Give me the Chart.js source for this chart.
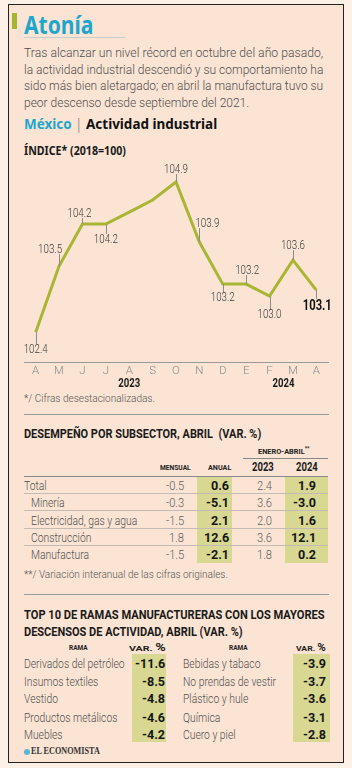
<!DOCTYPE html>
<html>
<head>
<meta charset="utf-8">
<script src="https://cdn.jsdelivr.net/npm/chart.js@4.4.1/dist/chart.umd.min.js"></script>
<style>
  body { margin: 0; width: 352px; height: 768px; overflow: hidden; background: #fdf0e7; font-family: Roboto, "Open Sans", sans-serif; }
  #card { position: absolute; left: 8px; top: 4px; width: 336px; height: 759px; box-sizing: border-box; border: 1.5px solid #222; background: #fbe4d4; }
  .t { position: absolute; white-space: nowrap; line-height: 1; transform-origin: 0 50%; }
  .hl { position: absolute; background: #d8d893; }
  .ln { position: absolute; height: 1px; }
  canvas { position: absolute; left: 0; top: 150px; }
</style>
</head>
<body>
<div id="card"></div>
<div id="page"></div>
<canvas id="chart" width="352" height="250"></canvas>
<script>
const months = ["A", "M", "J", "J", "A", "S", "O", "N", "D", "E", "F", "M", "A"];
const indice = [102.4, 103.5, 104.2, 104.2, 104.4, 104.6, 104.9, 103.9, 103.2, 103.2, 103.0, 103.6, 103.1];
const years = ["2023", "2024"];

const subsectores = ["Total", "Minería", "Electricidad, gas y agua", "Construcción", "Manufactura"];
const mensual = [-0.5, -0.3, -1.5, 1.8, -1.5];
const anual = [0.6, -5.1, 2.1, 12.6, -2.1];
const acum2023 = [2.4, 3.6, 2.0, 3.6, 1.8];
const acum2024 = [1.9, -3.0, 1.6, 12.1, 0.2];

const ramasA = ["Derivados del petróleo", "Insumos textiles", "Vestido", "Productos metálicos", "Muebles"];
const varA = [-11.6, -8.5, -4.8, -4.6, -4.2];
const ramasB = ["Bebidas y tabaco", "No prendas de vestir", "Plástico y hule", "Química", "Cuero y piel"];
const varB = [-3.9, -3.7, -3.6, -3.1, -2.8];

const page = document.getElementById("page");

function box(cls, x, y, w, h, color) {
  const d = document.createElement("div");
  d.className = cls;
  Object.assign(d.style, { left: x + "px", top: y + "px", width: w + "px", height: h + "px" });
  if (color) d.style.background = color;
  page.appendChild(d);
  return d;
}
function natural(str, style) {
  const d = document.createElement("div");
  d.className = "t";
  d.innerHTML = str;
  Object.assign(d.style, style || {});
  page.appendChild(d);
  const w = d.offsetWidth;
  d.remove();
  return w;
}
// y = vertical centre; opt.w squeezes to a width, opt.sx is a fixed squeeze, opt.align l/r/c
function txt(str, x, y, style, opt) {
  opt = opt || {};
  const d = document.createElement("div");
  d.className = "t";
  d.innerHTML = str;
  Object.assign(d.style, style || {});
  page.appendChild(d);
  const W = d.offsetWidth;
  const s = opt.w ? opt.w / W : (opt.sx || 1);
  const align = opt.align || "l";
  const left = align === "r" ? x - W * s : align === "c" ? x - W * s / 2 : x;
  d.style.left = left + "px";
  d.style.top = (y - d.offsetHeight / 2) + "px";
  d.style.transform = `scaleX(${s})`;
  return d;
}
const fmt = (v) => v.toFixed(1);

const bodyFont = { fontSize: "13.5px", color: "#4f4f4f", fontWeight: "300" };
const boldSans = { fontFamily: "'Noto Sans', sans-serif", fontWeight: "700" };
const capsBold = { fontWeight: "700", color: "#1a1a1a" };
const tiny = { fontWeight: "700", fontSize: "7.5px", color: "#222" };

// header
box("hl", 12, 13, 5, 16, "#a6b532");
txt("Atonía", 24, 24, { ...boldSans, fontSize: "25px", color: "#1ea6cd" }, { w: 69 });
box("ln", 24, 37, 101, 1, "#c9cdd0");
txt("Tras alcanzar un nivel récord en octubre del año pasado,", 24, 53, bodyFont, { w: 299 });
txt("la actividad industrial descendió y su comportamiento ha", 24, 69.5, bodyFont, { w: 299 });
txt("sido más bien aletargado; en abril la manufactura tuvo su", 24, 86, bodyFont, { w: 299 });
txt("peor descenso desde septiembre del 2021.", 24, 102.5, bodyFont, { w: 225 });
txt('<span style="color:#1ea6cd">México</span> <span style="color:#999;font-weight:400">|</span> <span style="color:#111">Actividad industrial</span>',
  24, 123, { ...boldSans, fontSize: "14.5px" }, { w: 193 });
txt("ÍNDICE* (2018=100)", 24, 151, { ...boldSans, fontSize: "12px", color: "#1a1a1a" }, { w: 102 });

txt("*/ Cifras desestacionalizadas.", 24, 399, { fontSize: "10.5px", color: "#555", fontWeight: "300" }, { w: 131 });
box("ln", 24, 414, 305, 1, "#9a9a9a");

// shared squeeze for the table rows
const light = { fontSize: "13px", color: "#505050", fontWeight: "300" };
const lightNum = { fontSize: "13px", color: "#606060", fontWeight: "300" };
const strong = { fontSize: "13px", fontWeight: "700", color: "#161616" };
const sLabel = 101 / natural("Derivados del petróleo", light);
const sNum = 18 / natural("-0.5", lightNum);
const sStrong = 30 / natural("-11.6", strong);

// table 1
txt("DESEMPEÑO POR SUBSECTOR, ABRIL&nbsp; (VAR. %)", 24, 434, { ...capsBold, fontSize: "12.5px" }, { w: 237 });
txt("ENERO-ABRIL<sup style='font-size:5.5px'>**</sup>", 284, 450, tiny, { w: 52, align: "c" });
box("ln", 243, 458, 85, 1, "#8a8a8a");
txt("MENSUAL", 175, 468, tiny, { w: 31, align: "c" });
txt("ANUAL", 219, 468, tiny, { w: 23, align: "c" });
txt("2023", 263, 467, { ...capsBold, fontSize: "12.5px" }, { w: 22, align: "c" });
txt("2024", 307, 467, { ...capsBold, fontSize: "12.5px" }, { w: 22, align: "c" });
box("hl", 197, 476, 35, 87);
box("hl", 285, 476, 43, 87);
box("ln", 24, 476, 304, 1, "#8a8a8a");
const rowY1 = [485, 502, 520, 537, 554];
subsectores.forEach((name, i) => {
  const y = rowY1[i];
  if (i < subsectores.length - 1) box("ln", 24, y + 8, 304, 1, "#c4bcb4");
  txt(name, i === 0 ? 24 : 31, y, light, { sx: sLabel });
  txt(fmt(mensual[i]), 184, y, lightNum, { sx: sNum, align: "r" });
  txt(fmt(anual[i]), 229, y, strong, { sx: sStrong, align: "r" });
  txt(fmt(acum2023[i]), 272, y, lightNum, { sx: sNum, align: "r" });
  txt(fmt(acum2024[i]), 316, y, strong, { sx: sStrong, align: "r" });
});
txt("**/ Variación interanual de las cifras originales.", 24, 575, { fontSize: "10.5px", color: "#555", fontWeight: "300" }, { w: 204 });
box("ln", 24, 594, 305, 1, "#9a9a9a");

// table 2
txt("TOP 10 DE RAMAS MANUFACTURERAS CON LOS MAYORES", 24, 615, { ...capsBold, fontSize: "12.5px" }, { w: 301 });
txt("DESCENSOS DE ACTIVIDAD, ABRIL (VAR. %)", 24, 632, { ...capsBold, fontSize: "12.5px" }, { w: 219 });
txt("RAMA", 78, 648, tiny, { w: 19, align: "c" });
txt("VAR. <span style='font-size:10px'>%</span>", 147, 648, tiny, { w: 37, align: "c" });
txt("RAMA", 238, 648, tiny, { w: 19, align: "c" });
txt("VAR. <span style='font-size:10px'>%</span>", 311, 648, tiny, { w: 30, align: "c" });
box("hl", 132, 654, 34, 88);
box("hl", 293, 654, 37, 88);
const rowY2 = [663, 681, 698, 717, 734];
ramasA.forEach((name, i) => {
  const y = rowY2[i];
  txt(name, 24, y, light, { sx: sLabel });
  txt(fmt(varA[i]), 165, y, strong, { sx: sStrong, align: "r" });
  txt(ramasB[i], 183, y, light, { sx: sLabel });
  txt(fmt(varB[i]), 326, y, strong, { sx: sStrong, align: "r" });
});
box("hl", 24, 749, 6, 6, "#58b6d6").style.borderRadius = "50%";
txt("EL ECONOMISTA", 31, 752, { fontFamily: "'Liberation Serif', serif", fontWeight: "700", fontSize: "9.5px", color: "#333" }, { w: 69 });

// line chart
const labelPos = [
  { dx: 0, dy: 17 }, { dx: -9, dy: -17 }, { dx: -3, dy: -11 }, { dx: 0, dy: 15 },
  null, null,
  { dx: 0, dy: -13 }, { dx: 8, dy: -19 }, { dx: 0, dy: 13 }, { dx: 1, dy: -14 },
  { dx: 0, dy: 18 }, { dx: 0, dy: -15 }, { dx: 1, dy: 15, bold: true },
];
const yearAt = [4, 10.6];

function squeezed(c, str, x, y, font, width) {
  c.font = font;
  const s = width / c.measureText(str).width;
  c.save();
  c.translate(x, y);
  c.scale(s, 1);
  c.fillText(str, 0, 0);
  c.restore();
}

const pointLabels = {
  id: "pointLabels",
  afterDatasetsDraw(chart) {
    const c = chart.ctx;
    const pts = chart.getDatasetMeta(0).data;
    c.save();
    c.textAlign = "center";
    c.textBaseline = "middle";
    pts.forEach((p, i) => {
      const lp = labelPos[i];
      if (!lp) return;
      const half = lp.bold ? 6 : 5;
      const edge = p.y + lp.dy + (lp.dy > 0 ? -half : half);
      c.strokeStyle = "#8c8c8c";
      c.lineWidth = 1;
      c.beginPath();
      c.moveTo(Math.round(p.x) + 0.5, p.y);
      c.lineTo(Math.round(p.x) + 0.5, edge);
      c.stroke();
      c.fillStyle = lp.bold ? "#111" : "#3a3a3a";
      const y = p.y + lp.dy + 1;
      if (lp.bold) squeezed(c, fmt(indice[i]), p.x + lp.dx, y, "bold 15px Roboto", 29);
      else squeezed(c, fmt(indice[i]), p.x + lp.dx, y, "300 13px Roboto", 24);
    });
    const xs = chart.scales.x;
    c.fillStyle = "#1a1a1a";
    years.forEach((yr, k) => {
      const v = yearAt[k];
      const lo = Math.floor(v), f = v - lo;
      const x = f ? xs.getPixelForValue(lo) * (1 - f) + xs.getPixelForValue(lo + 1) * f : xs.getPixelForValue(lo);
      squeezed(c, yr, x, chart.chartArea.bottom + 22, "bold 13px Roboto", 22);
    });
    c.restore();
  },
};

new Chart(document.getElementById("chart").getContext("2d"), {
  type: "line",
  data: {
    labels: months,
    datasets: [{
      data: indice,
      borderColor: "#a9b634",
      borderWidth: 3,
      pointRadius: 0,
      tension: 0,
    }],
  },
  options: {
    responsive: false,
    animation: false,
    devicePixelRatio: 1,
    layout: { padding: { left: 24, right: 24, top: 14, bottom: 20 } },
    plugins: { legend: { display: false }, tooltip: { enabled: false } },
    scales: {
      x: {
        offset: true,
        grid: { display: false, drawTicks: false },
        border: { color: "#9a9a9a", width: 1 },
        ticks: { color: "#8a8a8a", font: { family: "Roboto", size: 11.5, weight: "300" }, padding: 2, maxRotation: 0, autoSkip: false },
      },
      y: { display: false, min: 101.9, max: 105.2 },
    },
  },
  plugins: [pointLabels],
});
</script>
</body>
</html>
